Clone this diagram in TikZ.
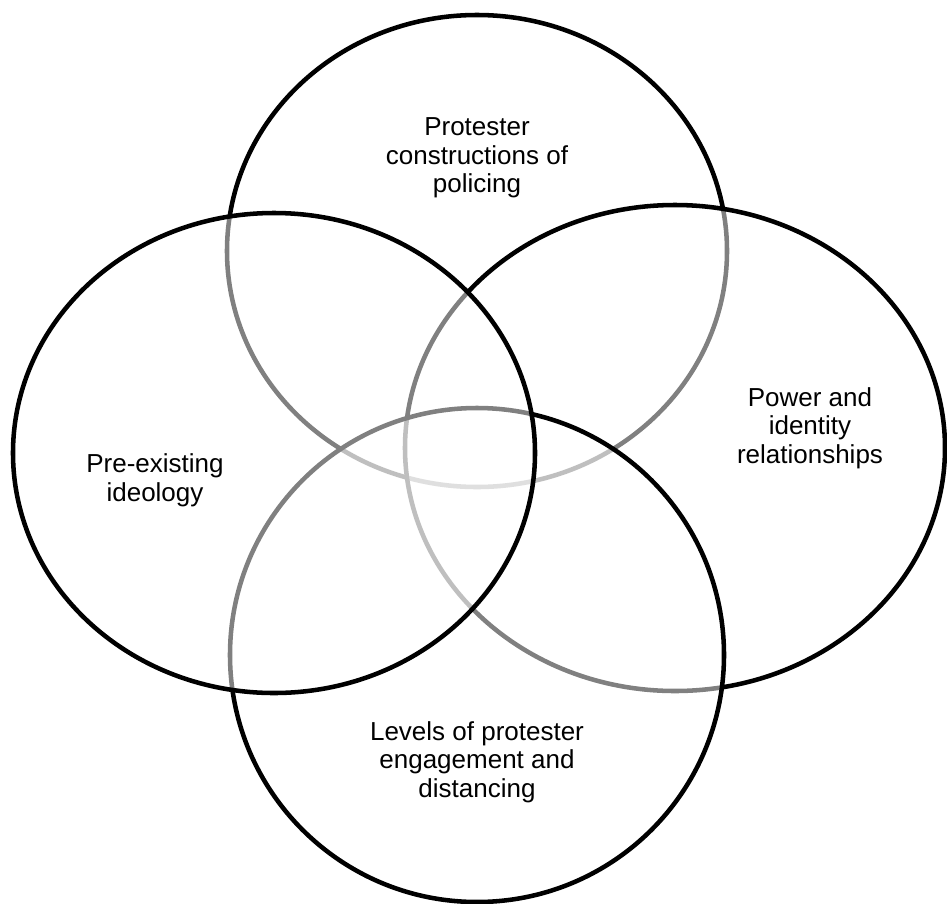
\documentclass[tikz,border=0pt]{standalone}
\usepackage{fontspec}
\setmainfont{Liberation Sans}
\usetikzlibrary{shapes.geometric}
\begin{document}
\begin{tikzpicture}[x=0.75pt,y=-0.75pt,
 venn/.style={ellipse,draw=black,line width=3.4pt,fill=white,fill opacity=0.5,inner sep=0pt},
 lbl/.style={align=center,font=\fontsize{19.5pt}{21.5pt}\selectfont,text=black,inner sep=0pt}]
\useasboundingbox (0,0) rectangle (947,904);
\node[venn,minimum width=375pt,minimum height=354pt] (top) at (477,251) {};
\node[venn,minimum width=405pt,minimum height=364.5pt] (right) at (675,448) {};
\node[venn,minimum width=370.5pt,minimum height=370.5pt] (bottom) at (477,655) {};
\node[venn,minimum width=391.5pt,minimum height=360pt] (left) at (274,453) {};
\node[lbl] (ttop) at (477,158) {Protester\\constructions of\\policing};
\node[lbl] (tleft) at (155,480) {Pre-existing\\ideology};
\node[lbl] (tright) at (810,428) {Power and\\identity\\relationships};
\node[lbl] (tbottom) at (477,762) {Levels of protester\\engagement and\\distancing};
\end{tikzpicture}
\end{document}
